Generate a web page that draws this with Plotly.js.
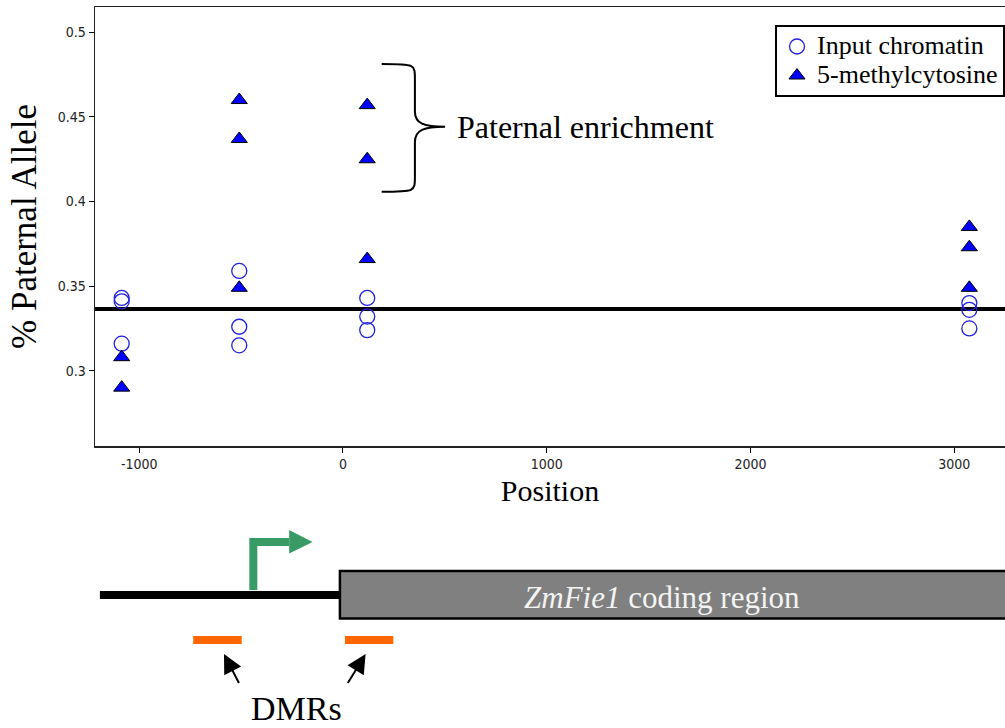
<!DOCTYPE html>
<html>
<head>
<meta charset="utf-8">
<script src="https://cdn.plot.ly/plotly-3.0.1.min.js"></script>
<style>
  html, body { margin: 0; padding: 0; background: #ffffff; }
  #chart { width: 1005px; height: 728px; }
</style>
</head>
<body>
<div id="chart"></div>
<script>
// Paternal allele fraction at each assayed position (bp relative to the ZmFie1 coding start)
const inputPos    = [-1086, -1086, -1086, -509, -509, -509, 119, 119, 119, 3074, 3074, 3074];
const inputRatio  = [0.343, 0.341, 0.316, 0.359, 0.326, 0.315, 0.343, 0.332, 0.324, 0.340, 0.336, 0.325];
const methylPos   = [-1086, -1086, -509, -509, -509, 119, 119, 119, 3074, 3074, 3074];
const methylRatio = [0.308, 0.290, 0.460, 0.437, 0.349, 0.457, 0.425, 0.366, 0.385, 0.373, 0.349];

// Series names
const seriesNames = ['Input chromatin', '5-methylcytosine'];

// Expected paternal contribution in triploid endosperm
const expectedRatio = 0.3365;

// Axis ticks
const xTickVals  = [-1000, 0, 1000, 2000, 3000];
const xTickText  = ['-1000', '0', '1000', '2000', '3000'];
const yTickVals  = [0.3, 0.35, 0.4, 0.45, 0.5];
const yTickText  = ['0.3', '0.35', '0.4', '0.45', '0.5'];

// Gene model (bp, same scale as the x axis)
const promoterStart = -1193;
const codingStart   = -15;
const codingEnd     = 3600;
const tssPos        = -440;
const tssArrowEnd   = -264;
const tssArrowTip   = -149;
const dmrs          = [[-735, -497], [10, 247]];
const dmrArrowTips  = [-584, 111];

// Brace around the enriched 5-methylcytosine points
const brace = { x0: 190, x1: 353, tip: 501, yTop: 0.4813, yTip: 0.4442, yBot: 0.4058 };

const W = 1005, H = 728;
const serif = "'Liberation Serif', 'Times New Roman', serif";
const narrow = "'Liberation Sans Narrow', 'Arial Narrow', 'DejaVu Sans Condensed', sans-serif";
// paper y for a row measured from the top of the page
const py = r => 1 - r / H;
// legend entries use compact rows with full-size lettering
const legendLabel = s => `<span style="font-size:26px">${s}</span>`;

const BLUE = '#0000ff';
const GREEN = '#389b66';
const ORANGE = '#ff6600';

const traces = [
  {
    type: 'scatter', mode: 'markers', name: legendLabel(seriesNames[0]),
    x: inputPos, y: inputRatio,
    marker: { symbol: 'circle-open', size: 15, color: '#2020e0', line: { width: 1.3, color: '#2020e0' } },
    cliponaxis: false
  },
  {
    type: 'scatter', mode: 'markers', name: legendLabel(seriesNames[1]),
    x: methylPos, y: methylRatio,
    marker: { symbol: 'triangle-up', size: 14, color: BLUE, line: { width: 1, color: '#000000' } },
    cliponaxis: false
  }
];

// Brace path in data units
const bx = brace.x1, bh = (brace.yTop - brace.yBot);
const r1 = bh * 0.12, r2 = bh * 0.06;
const bracePath =
  `M${brace.x0},${brace.yTop} ` +
  `C${bx},${brace.yTop} ${bx},${brace.yTop} ${bx},${brace.yTop - r1} ` +
  `L${bx},${brace.yTip + r1} ` +
  `C${bx},${brace.yTip + r2 * 0.4} ${bx + (brace.tip - bx) * 0.3},${brace.yTip} ${brace.tip},${brace.yTip} ` +
  `C${bx + (brace.tip - bx) * 0.3},${brace.yTip} ${bx},${brace.yTip - r2 * 0.4} ${bx},${brace.yTip - r1} ` +
  `L${bx},${brace.yBot + r1} ` +
  `C${bx},${brace.yBot} ${bx},${brace.yBot} ${brace.x0},${brace.yBot}`;

const shapes = [
  // expected ratio reference line
  { type: 'line', xref: 'x domain', yref: 'y', x0: 0, x1: 1, y0: expectedRatio, y1: expectedRatio,
    line: { color: '#000000', width: 4 }, layer: 'below' },
  // brace
  { type: 'path', xref: 'x', yref: 'y', path: bracePath, line: { color: '#000000', width: 2 } },
  // promoter line
  { type: 'line', xref: 'x', yref: 'paper', x0: promoterStart, x1: codingStart, y0: py(595), y1: py(595),
    line: { color: '#000000', width: 8 } },
  // coding region box
  { type: 'rect', xref: 'x', yref: 'paper', x0: codingStart, x1: codingEnd, y0: py(618.5), y1: py(571),
    fillcolor: '#808080', line: { color: '#000000', width: 2.5 } },
  // transcription start arrow
  { type: 'path', xref: 'x', yref: 'paper',
    path: `M${tssPos},${py(590)} L${tssPos},${py(542)} L${tssArrowEnd},${py(542)}`,
    line: { color: GREEN, width: 8 } },
  { type: 'path', xref: 'x', yref: 'paper',
    path: `M${tssArrowEnd},${py(530)} L${tssArrowTip},${py(542)} L${tssArrowEnd},${py(553.5)} Z`,
    fillcolor: GREEN, line: { color: GREEN, width: 0 } }
];
dmrs.forEach(([a, b]) => shapes.push({
  type: 'line', xref: 'x', yref: 'paper', x0: a, x1: b, y0: py(640), y1: py(640),
  line: { color: ORANGE, width: 8 }
}));

const pointer = (x, ax) => ({
  xref: 'x', yref: 'paper', x: x, y: py(654), ax: ax, ay: 31, text: ' ', font: { size: 1 },
  showarrow: true, arrowhead: 2, arrowsize: 1.9, arrowwidth: 2, arrowcolor: '#000000', standoff: 0
});

const annotations = [
  { xref: 'x', yref: 'y', x: 550, y: brace.yTip, xanchor: 'left', yanchor: 'middle',
    text: 'Paternal enrichment', showarrow: false, font: { family: serif, size: 32, color: '#000000' } },
  { xref: 'x', yref: 'paper', x: 1564, y: py(597), xanchor: 'center', yanchor: 'middle',
    text: '<i>ZmFie1</i> coding region', showarrow: false, font: { family: serif, size: 31, color: '#f4f4f4' } },
  { xref: 'x', yref: 'paper', x: -227, y: py(708), xanchor: 'center', yanchor: 'middle',
    text: 'DMRs', showarrow: false, font: { family: serif, size: 34, color: '#000000' } },
  pointer(dmrArrowTips[0], 16),
  pointer(dmrArrowTips[1], -19)
];

const layout = {
  width: W, height: H,
  margin: { l: 0, r: 0, t: 0, b: 0, pad: 0 },
  paper_bgcolor: '#ffffff', plot_bgcolor: '#ffffff',
  showlegend: true,
  legend: {
    x: 775 / W, y: py(25), xanchor: 'left', yanchor: 'top',
    bgcolor: '#ffffff', bordercolor: '#000000', borderwidth: 2,
    font: { family: serif, size: 20, color: '#000000' },
    itemwidth: 30, tracegroupgap: 0
  },
  xaxis: {
    domain: [95 / W, 1], range: [-1217, 3249],
    tickvals: xTickVals, ticktext: xTickText,
    ticks: 'outside', ticklen: 5, tickwidth: 1, tickcolor: '#000000',
    showline: true, linecolor: '#222222', linewidth: 1.5, mirror: true,
    showgrid: false, zeroline: false,
    tickfont: { family: narrow, size: 14, color: '#222222' },
    title: { text: 'Position', font: { family: serif, size: 30, color: '#000000' }, standoff: 8 }
  },
  yaxis: {
    domain: [py(446), py(7)], range: [0.2555, 0.515],
    tickvals: yTickVals, ticktext: yTickText,
    ticks: 'outside', ticklen: 5, tickwidth: 1, tickcolor: '#000000',
    showline: true, linecolor: '#222222', linewidth: 1.5,
    showgrid: false, zeroline: false,
    tickfont: { family: narrow, size: 14, color: '#222222' },
    title: { text: '% Paternal Allele', font: { family: serif, size: 35, color: '#000000' }, standoff: 10 }
  },
  shapes: shapes,
  annotations: annotations
};

Plotly.newPlot('chart', traces, layout, { displayModeBar: false, staticPlot: true });
</script>
</body>
</html>
